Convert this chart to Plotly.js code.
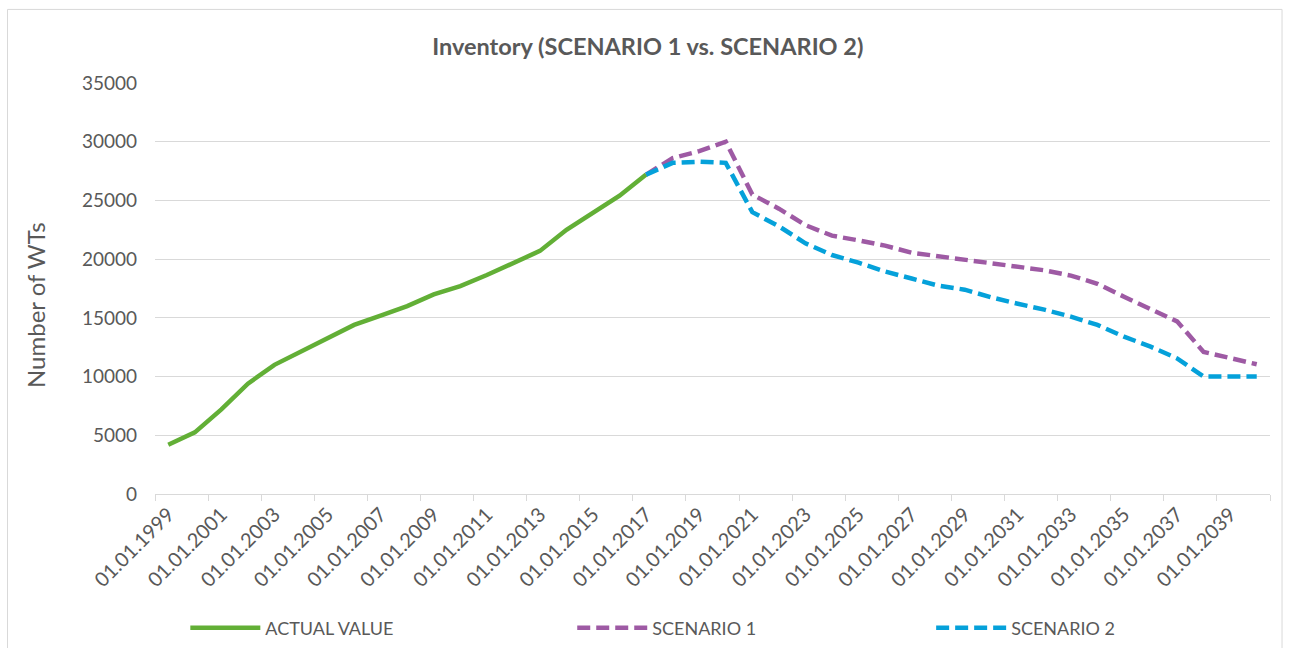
<!DOCTYPE html>
<html>
<head>
<meta charset="utf-8">
<script src="https://cdn.plot.ly/plotly-3.0.1.min.js"></script>
<style>
  html, body { margin: 0; padding: 0; background: #ffffff; }
  #chart { width: 1293px; height: 648px; }
</style>
</head>
<body>
<div id="chart"></div>
<script>
const categories = [
  "01.01.1999","01.01.2000","01.01.2001","01.01.2002","01.01.2003","01.01.2004",
  "01.01.2005","01.01.2006","01.01.2007","01.01.2008","01.01.2009","01.01.2010",
  "01.01.2011","01.01.2012","01.01.2013","01.01.2014","01.01.2015","01.01.2016",
  "01.01.2017","01.01.2018","01.01.2019","01.01.2020","01.01.2021","01.01.2022",
  "01.01.2023","01.01.2024","01.01.2025","01.01.2026","01.01.2027","01.01.2028",
  "01.01.2029","01.01.2030","01.01.2031","01.01.2032","01.01.2033","01.01.2034",
  "01.01.2035","01.01.2036","01.01.2037","01.01.2038","01.01.2039","01.01.2040"
];

// ACTUAL VALUE: 1999 .. 2017
const actualValue = [
  4200, 5250, 7200, 9400, 11000, 12100, 13200, 14400, 15200, 16000,
  17000, 17700, 18650, 19650, 20700, 22500, 23900, 25400, 27200
];

// SCENARIO 1: 2017 .. 2040
const scenario1 = [
  27200, 28600, 29200, 30000, 25500, 24300, 22900, 22000, 21600, 21150,
  20550, 20250, 20000, 19700, 19400, 19050, 18600, 17900, 16800, 15800,
  14700, 12100, 11550, 11050
];

// SCENARIO 2: 2017 .. 2040
const scenario2 = [
  27200, 28200, 28300, 28200, 24000, 22800, 21350, 20350, 19700, 18950,
  18350, 17750, 17400, 16750, 16200, 15700, 15100, 14400, 13400, 12550,
  11550, 10000, 10000, 10000
];

const seriesNames = ["ACTUAL VALUE", "SCENARIO 1", "SCENARIO 2"];
const titleText = "Inventory (SCENARIO 1 vs. SCENARIO 2)";
const yTitleText = "Number of WTs";

const FONT = "Lato, 'Open Sans', sans-serif";
const GREY = "#595959";

const actualX = categories.slice(0, actualValue.length);
const scenX = categories.slice(categories.length - scenario1.length);

const traces = [
  {
    type: "scatter", mode: "lines", name: seriesNames[0],
    x: actualX, y: actualValue,
    line: { color: "#62AF36", width: 4.5 },
    legend: "legend"
  },
  {
    type: "scatter", mode: "lines", name: seriesNames[1],
    x: scenX, y: scenario1,
    line: { color: "#9E5AA4", width: 4.5, dash: "13px,6px" },
    legend: "legend2"
  },
  {
    type: "scatter", mode: "lines", name: seriesNames[2],
    x: scenX, y: scenario2,
    line: { color: "#05A1DA", width: 4.5, dash: "13px,6px" },
    legend: "legend3"
  }
];

const legendBase = {
  orientation: "h", yanchor: "middle", y: -0.326, xanchor: "left",
  font: { family: FONT, size: 18, color: GREY },
  bgcolor: "rgba(0,0,0,0)", itemwidth: 70, itemclick: false, itemdoubleclick: false
};

const layout = {
  width: 1293, height: 648,
  paper_bgcolor: "#ffffff", plot_bgcolor: "#ffffff",
  margin: { l: 155, r: 23, t: 83, b: 154, autoexpand: false },
  font: { family: FONT, color: GREY },
  title: {
    text: "<b>" + titleText + "</b>",
    font: { family: FONT, size: 23.5, color: GREY },
    x: 0.501, xanchor: "center", y: 0.928, yanchor: "middle"
  },
  xaxis: {
    type: "category",
    categoryorder: "array", categoryarray: categories,
    range: [-0.5, categories.length - 0.5],
    tickmode: "linear", tick0: 0, dtick: 2,
    tickson: "boundaries",
    ticks: "outside", ticklen: 6, tickcolor: "#d9d9d9", tickwidth: 1,
    tickangle: -45,
    tickfont: { family: FONT, size: 20, color: GREY },
    showline: true, linecolor: "#d9d9d9", linewidth: 1,
    showgrid: false, zeroline: false, automargin: false, fixedrange: true
  },
  yaxis: {
    range: [0, 35000],
    tickmode: "linear", tick0: 0, dtick: 5000,
    tickformat: "d",
    showgrid: true, gridcolor: "#d9d9d9", gridwidth: 1,
    zeroline: false, showline: false, ticks: "",
    ticklabelstandoff: 17,
    tickfont: { family: FONT, size: 19, color: GREY },
    automargin: false, fixedrange: true
  },
  annotations: [
    {
      text: yTitleText, textangle: -90, showarrow: false,
      xref: "paper", yref: "paper",
      x: (35 - 155) / 1115, y: (494 - 305) / 411,
      xanchor: "center", yanchor: "middle",
      font: { family: FONT, size: 24, color: GREY }
    }
  ],
  showlegend: true,
  legend: Object.assign({}, legendBase, { x: 0.0272 }),
  legend2: Object.assign({}, legendBase, { x: 0.3742 }),
  legend3: Object.assign({}, legendBase, { x: 0.6961 }),
  shapes: [
    {
      type: "rect", xref: "paper", yref: "paper",
      x0: -0.1323, x1: 1.0108, y0: -0.4, y1: 1.179,
      line: { color: "#d9d9d9", width: 1 }, fillcolor: "rgba(0,0,0,0)", layer: "below"
    }
  ]
};

Plotly.newPlot("chart", traces, layout, { displayModeBar: false, staticPlot: true });
</script>
</body>
</html>
